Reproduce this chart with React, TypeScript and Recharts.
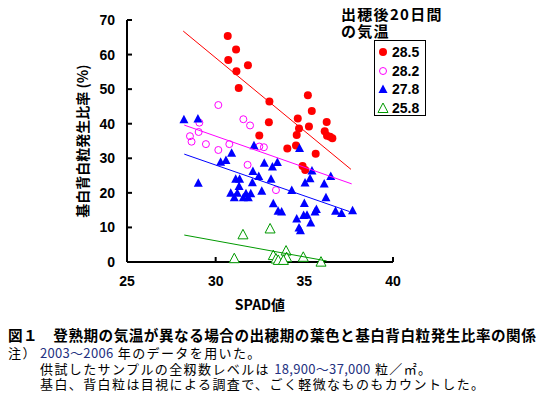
import React from 'react';
import { ScatterChart, Scatter, XAxis, YAxis, Legend } from 'recharts';

// axis ticks
const spadTicks = [25, 30, 35, 40];
const rateTicks = [0, 10, 20, 30, 40, 50, 60, 70];

// 出穂後20日間の気温 28.5℃
const spad285 = [30.68, 31.15, 30.71, 31.82, 31.17, 31.3, 33.03, 33.0, 32.46, 35.2, 35.42, 34.63, 36.26, 35.26, 34.7, 36.15, 34.57, 36.28, 36.58, 34.04, 34.53, 35.64, 34.9, 35.05, 36.45];
const rate285 = [65.4, 61.5, 58.4, 56.9, 55.2, 50.3, 46.4, 40.4, 36.6, 48.2, 43.7, 41.5, 40.5, 39.2, 38.6, 37.8, 36.7, 36.5, 35.8, 32.8, 33.7, 31.3, 27.8, 26.6, 36.2];

// 28.2℃
const spad282 = [30.15, 31.56, 31.94, 29.08, 28.55, 29.04, 28.64, 29.45, 30.15, 30.77, 32.46, 32.72, 31.8, 33.4];
const rate282 = [45.4, 41.3, 39.5, 40.3, 36.4, 37.6, 34.8, 34.1, 32.4, 34.1, 33.4, 33.2, 28.1, 20.8];

// 27.8℃
const spad278 = [28.21, 29.0, 29.02, 30.9, 30.28, 30.58, 32.16, 32.74, 33.2, 33.48, 32.1, 31.13, 31.35, 32.43, 32.07, 33.12, 31.32, 30.85, 31.22, 31.71, 31.98, 32.6, 31.05, 31.56, 31.84, 33.25, 33.52, 34.73, 35.43, 35.32, 35.04, 36.12, 36.49, 34.29, 36.22, 35.0, 33.72, 35.68, 35.6, 36.76, 37.1, 37.72, 34.57, 34.96, 35.15, 35.36, 34.7, 34.78];
const rate278 = [41.3, 41.5, 22.9, 31.6, 29.0, 29.5, 33.8, 28.7, 27.6, 28.9, 26.3, 24.1, 24.1, 24.9, 23.1, 24.1, 22.0, 20.0, 20.0, 19.9, 19.9, 20.6, 18.7, 18.7, 18.7, 17.0, 14.8, 33.0, 26.5, 24.2, 23.0, 22.7, 24.9, 20.8, 18.7, 17.1, 14.6, 15.3, 14.6, 14.8, 14.2, 15.0, 12.6, 13.6, 13.7, 11.4, 10.0, 9.2];

// 25.8℃
const spad258 = [31.54, 33.07, 31.05, 33.25, 33.4, 33.53, 33.97, 34.0, 33.82, 34.94, 35.94];
const rate258 = [8.0, 9.7, 1.1, 2.0, 1.0, 0.6, 3.3, 1.4, 0.6, 1.5, 0.1];

// regression lines (end points)
const fitSpad285 = [28.17, 37.63];
const fitRate285 = [66.8, 26.8];
const fitSpad282 = [28.23, 37.67];
const fitRate282 = [39.6, 22.6];
const fitSpad278 = [28.23, 37.54];
const fitRate278 = [31.2, 14.6];
const fitSpad258 = [28.23, 36.26];
const fitRate258 = [7.8, 0.3];

const legendLabels = ['28.5', '28.2', '27.8', '25.8'];

const RED = '#ff0000';
const MAGENTA = '#ff00ff';
const BLUE = '#0000ff';
const GREEN = '#009900';

const LATIN = '"Liberation Sans", Arial, sans-serif';
const CJK = '"Noto Sans CJK JP", "Liberation Sans", sans-serif';

const zip = (xs: number[], ys: number[]) => xs.map((x, i) => ({ spad: x, rate: ys[i] }));

const RedDot = (p: any) => <circle cx={p.cx} cy={p.cy} r={4} fill={RED} />;
const PinkRing = (p: any) => <circle cx={p.cx} cy={p.cy} r={3.5} fill="none" stroke={MAGENTA} strokeWidth={1} />;
const BlueTri = (p: any) => (
  <polygon points={`${p.cx},${p.cy - 4.5} ${p.cx - 4.5},${p.cy + 4} ${p.cx + 4.5},${p.cy + 4}`} fill={BLUE} />
);
const GreenTri = (p: any) => (
  <polygon points={`${p.cx},${p.cy - 5} ${p.cx - 5},${p.cy + 4.5} ${p.cx + 5},${p.cy + 4.5}`} fill="#fff" stroke={GREEN} strokeWidth={1} />
);
const NoMark = () => <g />;

const markers = [RedDot, PinkRing, BlueTri, GreenTri];

function LegendBox() {
  return (
    <div style={{ fontFamily: CJK, fontWeight: 'bold', color: '#000' }}>
      <div style={{ fontSize: 15, lineHeight: '17px', letterSpacing: 1.3 }}>
        出穂後20日間
        <br />
        の気温
      </div>
      <div
        style={{
          position: 'absolute',
          left: 33,
          top: 35,
          width: 52,
          height: 76,
          boxSizing: 'border-box',
          border: '1px solid #000',
          paddingTop: 2,
          background: '#fff',
        }}
      >
        {legendLabels.map((lab, i) => {
          const M = markers[i];
          return (
            <div key={lab} style={{ display: 'flex', alignItems: 'center', height: 18.5 }}>
              <svg width={12} height={12} style={{ marginLeft: 2 }}>
                <M cx={6} cy={6} />
              </svg>
              <span style={{ marginLeft: 3, fontFamily: LATIN, fontSize: 14, fontWeight: 'bold' }}>{lab}</span>
            </div>
          );
        })}
      </div>
    </div>
  );
}

const renderYTitle = (p: any) => {
  const vb = p.viewBox;
  const x = vb.x + 82;
  const y = vb.y + vb.height / 2;
  return (
    <text
      x={x}
      y={y}
      transform={`rotate(-90 ${x} ${y})`}
      textAnchor="middle"
      dominantBaseline="central"
      style={{ fontFamily: CJK, fontSize: 14, fontWeight: 'bold', fill: '#000' }}
    >
      基白背白粒発生比率 (%)
    </text>
  );
};

const noteLine = { fontSize: 13, lineHeight: '15.5px', height: 15.5, letterSpacing: 1.4, whiteSpace: 'nowrap' as const };
const digits = { color: '#233080', letterSpacing: 0.3 };

export default function App() {
  const tickStyle = { fontFamily: LATIN, fontSize: 14, fontWeight: 'bold', fill: '#000' };
  return (
    <div style={{ position: 'relative', width: 545, height: 399, marginLeft: -8, marginTop: -8, background: '#fff', overflow: 'hidden' }}>
      <ScatterChart width={545} height={320} margin={{ top: 20, right: 152, bottom: 10, left: 0 }}>
        <XAxis
          type="number"
          dataKey="spad"
          domain={[25, 40]}
          ticks={spadTicks}
          height={48}
          tickSize={-5}
          tickMargin={19}
          tick={tickStyle}
          axisLine={{ stroke: '#000', strokeWidth: 2 }}
          tickLine={{ stroke: '#000', strokeWidth: 2 }}
          label={{
            value: 'SPAD値',
            position: 'insideBottom',
            offset: 0,
            style: { fontFamily: CJK, fontSize: 14, fontWeight: 'bold', fill: '#000' },
          }}
        />
        <YAxis
          type="number"
          dataKey="rate"
          domain={[0, 70]}
          ticks={rateTicks}
          width={127}
          tickSize={-5}
          tickMargin={17}
          tick={tickStyle}
          axisLine={{ stroke: '#000', strokeWidth: 2 }}
          tickLine={{ stroke: '#000', strokeWidth: 2 }}
          label={{ content: renderYTitle }}
        />
        <Legend
          layout="horizontal"
          verticalAlign="middle"
          align="center"
          content={() => <LegendBox />}
          wrapperStyle={{ left: 341, top: 5, width: 130, height: 115 }}
        />
        <Scatter data={zip(spad285, rate285)} shape={RedDot} isAnimationActive={false} />
        <Scatter data={zip(spad282, rate282)} shape={PinkRing} isAnimationActive={false} />
        <Scatter data={zip(spad278, rate278)} shape={BlueTri} isAnimationActive={false} />
        <Scatter data={zip(spad258, rate258)} shape={GreenTri} isAnimationActive={false} />
        <Scatter data={zip(fitSpad285, fitRate285)} shape={NoMark} line={{ stroke: RED, strokeWidth: 1 }} isAnimationActive={false} />
        <Scatter data={zip(fitSpad282, fitRate282)} shape={NoMark} line={{ stroke: MAGENTA, strokeWidth: 1 }} isAnimationActive={false} />
        <Scatter data={zip(fitSpad278, fitRate278)} shape={NoMark} line={{ stroke: BLUE, strokeWidth: 1 }} isAnimationActive={false} />
        <Scatter data={zip(fitSpad258, fitRate258)} shape={NoMark} line={{ stroke: GREEN, strokeWidth: 1 }} isAnimationActive={false} />
      </ScatterChart>
      <div style={{ position: 'absolute', left: 8, top: 326, fontFamily: CJK, color: '#000' }}>
        <div style={{ fontSize: 14.6, lineHeight: '18px', fontWeight: 'bold', letterSpacing: 0.5, whiteSpace: 'nowrap' }}>
          図１　登熟期の気温が異なる場合の出穂期の葉色と基白背白粒発生比率の関係
        </div>
        <div style={{ display: 'grid', gridTemplateColumns: '32px auto', marginTop: 1 }}>
          <div style={noteLine}>注）</div>
          <div style={noteLine}>
            <span style={digits}>2003～2006</span> 年のデータを用いた。
          </div>
          <div />
          <div style={noteLine}>
            供試したサンプルの全籾数レベルは <span style={digits}>18,900～37,000</span> 粒／㎡。
          </div>
          <div />
          <div style={noteLine}>基白、背白粒は目視による調査で、ごく軽微なものもカウントした。</div>
        </div>
      </div>
    </div>
  );
}
